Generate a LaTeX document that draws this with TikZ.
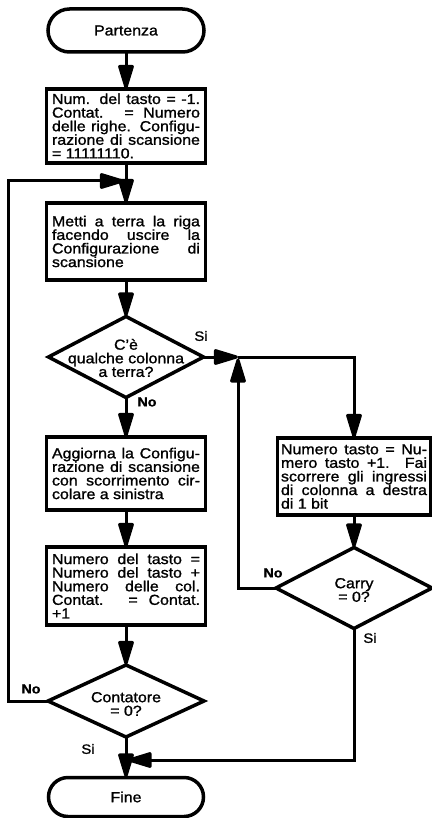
\documentclass[tikz,border=0pt]{standalone}
\usepackage{fontspec}
\setmainfont{Liberation Sans}[FakeStretch=1.1,FakeBold=1.2]
\usetikzlibrary{arrows.meta,shapes.geometric,shapes.misc}
\newcommand\jl[1]{\makebox[148pt][s]{#1}}
\newcommand\jlast[1]{\makebox[148pt][l]{#1}}
\newcommand\jr[1]{\makebox[146pt][s]{#1}}
\newcommand\jrlast[1]{\makebox[146pt][l]{#1}}
\begin{document}
\begin{tikzpicture}[x=1pt,y=-1pt,
  txt/.style={font=\fontsize{14.5}{13.6}\selectfont},
  term/.style={rounded rectangle, draw, line width=3.5pt, minimum width=156pt, minimum height=43pt, inner sep=0pt, outer sep=0pt, txt},
  proc/.style={rectangle, draw, line width=3.5pt, minimum width=159pt, inner sep=0pt, outer sep=0pt, txt, align=left},
  dia/.style={diamond, draw, line width=3.5pt, inner sep=0pt, outer sep=0pt, minimum width=155pt, minimum height=81pt},
  dtext/.style={txt, align=center, inner sep=0pt},
  lab/.style={font=\fontsize{13.5}{13.5}\selectfont, inner sep=0pt},
  labb/.style={font=\fontsize{13}{13}\selectfont\bfseries, inner sep=0pt},
  conn/.style={line width=3pt, line join=miter},
  arr/.style={conn, -{Triangle[length=28pt,width=16pt,round]}},
]
\useasboundingbox (0,0) rectangle (431,818);

\node[term] (p) at (126,30.5) {Partenza};
\node[proc, minimum height=74pt] (b1) at (126,126) {%
\jl{Num. del tasto = -1.}\\
\jl{Contat. = Numero}\\
\jl{delle righe. Configu-}\\
\jl{razione di scansione}\\
\jlast{= 11111110.}};
\node[proc, minimum height=77pt] (b2) at (126,241.5) {%
\jl{Metti a terra la riga}\\
\jl{facendo uscire la}\\
\jl{Configurazione di}\\
\jlast{scansione}};
\node[dia] (d1) at (126,357) {};
\node[dtext] (d1t) at (126,358) {C'è\\qualche colonna\\a terra?};
\node[proc, minimum height=73pt] (b3) at (126,473.5) {%
\jl{Aggiorna la Configu-}\\
\jl{razione di scansione}\\
\jl{con scorrimento cir-}\\
\jlast{colare a sinistra}};
\node[proc, minimum height=78pt] (b4) at (126,586) {%
\jl{Numero del tasto =}\\
\jl{Numero del tasto +}\\
\jl{Numero delle col.}\\
\jl{Contat. = Contat.}\\
\jlast{+1}};
\node[dia, minimum width=156pt, minimum height=72pt] (d3) at (126,701) {};
\node[dtext] (d3t) at (126,704) {Contatore\\= 0?};
\node[term, minimum width=155pt, minimum height=39pt] (f) at (126,797) {Fine};

\node[proc, minimum width=153pt, minimum height=77pt] (rb) at (354,476.5) {%
\jr{Numero tasto = Nu-}\\
\jr{mero tasto +1. Fai}\\
\jr{scorrere gli ingressi}\\
\jr{di colonna a destra}\\
\jrlast{di 1 bit}};
\node[dia, minimum width=156pt, minimum height=81pt] (d2) at (354,588) {};
\node[dtext] (d2t) at (354,590) {Carry\\= 0?};

\node[lab] (s1) at (201,336) {Si};
\node[labb] (n1) at (147,402) {No};
\node[labb] (n2) at (273,573) {No};
\node[lab] (s2) at (370,638) {Si};
\node[labb] (n3) at (31,689) {No};
\node[lab] (s3) at (88,749) {Si};

\coordinate (m1) at (238,357);
\coordinate (m1b) at (238,358.5);
\coordinate (m2) at (124,181);
\coordinate (l1) at (8,181);
\coordinate (m3) at (127.5,760);

\draw[arr] (p.south) -- (b1.north);
\draw[arr] (b1.south) -- (b2.north);
\draw[arr] (b2.south) -- (d1.north);
\draw[arr] (d1.south) -- (b3.north);
\draw[arr] (b3.south) -- (b4.north);
\draw[arr] (b4.south) -- (d3.north);
\draw[arr] (d3.south) -- (f.north);
\draw[arr] (d1.east) -- (m1);
\draw[arr] (m1) -| (rb.north);
\draw[arr] (rb.south) -- (d2.north);
\draw[arr] (d2.west) -| (m1b);
\draw[arr] (d2.south) |- (m3);
\draw[arr] (d3.west) -| (l1) -- (m2);
\end{tikzpicture}
\end{document}
